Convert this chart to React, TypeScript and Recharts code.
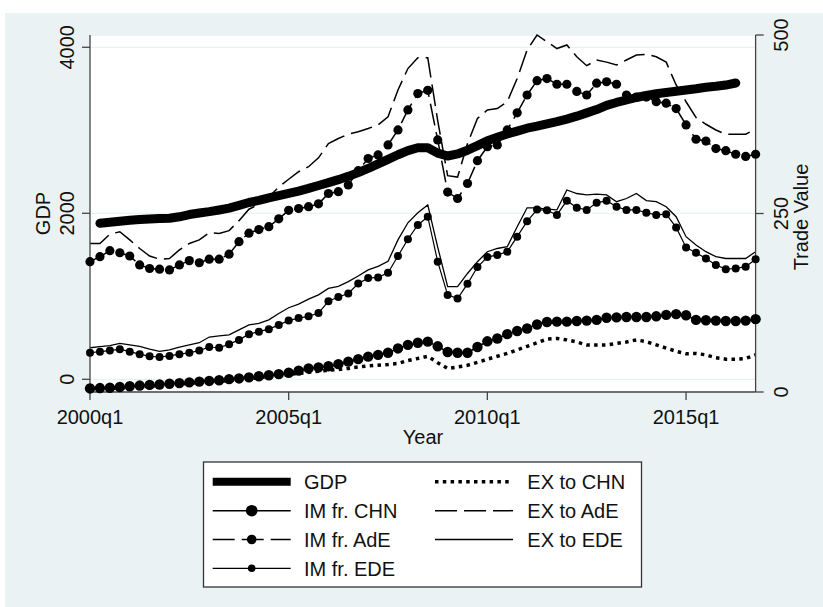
import React from 'react';
import { ComposedChart, Line, XAxis, YAxis, CartesianGrid } from 'recharts';

// Quarter categories 2000q1 .. 2016q4
const years = [2000, 2001, 2002, 2003, 2004, 2005, 2006, 2007, 2008, 2009, 2010, 2011, 2012, 2013, 2014, 2015, 2016];
const quarters: string[] = [];
years.forEach((y) => [1, 2, 3, 4].forEach((q) => quarters.push(`${y}q${q}`)));

const xTickIndex = [0, 20, 40, 60];
const gdpTicks = [0, 2000, 4000];
const tradeTicks = [0, 250, 500];

// GDP (left axis)
const gdp: (number | null)[] = [
  null, 1880, 1893, 1905, 1915, 1925, 1932, 1937, 1940, 1958,
  1985, 2003, 2020, 2040, 2062, 2095, 2130, 2155, 2185, 2212,
  2240, 2268, 2300, 2335, 2370, 2405, 2445, 2490, 2540, 2595,
  2650, 2705, 2755, 2790, 2790, 2725, 2690, 2715, 2760, 2815,
  2875, 2915, 2955, 2990, 3025, 3050, 3078, 3105, 3135, 3170,
  3210, 3250, 3300, 3335, 3365, 3395, 3420, 3440, 3455, 3470,
  3485, 3500, 3518, 3530, 3545, 3570, null, null,
];

// Trade values (right axis)
const imChn = [
  5, 5.5, 6, 7, 8, 9, 10, 10.5, 11.5, 12.5,
  13.5, 14.5, 15.5, 16.5, 18, 19, 20.5, 22, 23.5, 25,
  27, 30, 33, 34.5, 36, 39, 42.5, 46, 49.5, 52,
  55, 61, 66, 69, 70.5, 64, 56, 55, 55, 63,
  71, 75, 81, 85.5, 89, 94.5, 98, 98.5, 98.5, 99.5,
  100, 101, 104, 104.5, 105, 105, 105, 106, 108, 109,
  107.5, 101, 100.5, 100, 99.5, 99.5, 100, 102,
];
const imAde = [
  182.5, 189.5, 198, 195, 190.5, 178, 173, 172, 171, 178,
  184, 181, 186, 186, 193, 210.5, 222.5, 227.5, 231.5, 242.5,
  254.5, 257, 259.5, 263.5, 278, 280.5, 290, 310, 327, 332,
  346, 367, 395, 418, 422.5, 353, 280, 271, 292, 324,
  343.5, 346, 367, 391, 416, 436, 439, 431, 431, 421,
  416, 432.5, 434.5, 431, 416, 413, 413, 406.5, 404.5, 397,
  374, 354, 351.5, 341, 338, 333, 330, 333,
];
const imEde = [
  55, 56.5, 58, 60, 56.5, 53, 50, 49, 50.5, 53,
  55, 58, 63, 62, 67, 73, 81, 84.5, 88, 94,
  100, 103.5, 106, 110.5, 127, 133, 138, 152, 159.5, 160.5,
  167, 190.5, 214, 234, 245.5, 182.5, 136, 131, 151.5, 175,
  189, 192, 196.5, 217.5, 239, 255.5, 254.5, 248, 268, 258,
  255, 265, 268, 259.5, 255, 255, 251, 248, 249, 230.5,
  202.5, 195, 187, 178, 172, 173, 175.5, 186,
];
const exChn = [
  4, 4.5, 5, 5.5, 6.5, 7.5, 8, 9, 10, 11,
  12, 13, 14, 15, 16, 17, 18.5, 20, 21.5, 23,
  24.5, 26, 27.5, 29, 30.5, 31.5, 33, 35, 36.5, 37.5,
  38.5, 40, 44, 47, 50, 41, 33, 35, 37.5, 41.5,
  46, 50, 54, 59, 64, 69, 74, 75, 73, 70,
  66, 66, 66, 68, 70, 73, 70.5, 66, 61.5, 57,
  53.5, 54, 52, 48, 46, 46, 47, 52,
];
const exAde = [
  208, 208, 221, 224.5, 213, 201, 190.5, 186, 187, 199,
  208, 213, 223, 222, 226, 240, 256, 263, 273, 287,
  298, 308.5, 315.5, 328, 348, 355, 361, 364.5, 369, 374,
  385.5, 423, 453, 468, 468, 380, 303, 301, 348, 383,
  395, 397, 406.5, 439, 479, 500, 490.5, 481, 486, 469.5,
  457, 465, 462, 458, 465, 472, 473, 469.5, 462, 430,
  406.5, 384.5, 375, 367, 361, 361, 361, 368,
];
const exEde = [
  62, 63.5, 65, 68, 66, 64, 60, 57, 59, 63,
  66, 69, 77, 78.5, 80, 87, 94, 96, 101, 110,
  118, 123, 130, 136, 145, 148, 154.5, 162.5, 171, 176,
  183, 213, 237, 251, 262, 203, 147.5, 147.5, 166, 182.5,
  196.5, 201, 203.5, 231.5, 258, 258, 256, 255, 283, 278,
  276, 277, 276, 266.5, 271, 278, 268, 266.5, 259.5, 245.5,
  217.5, 206, 196.5, 189.5, 187, 187, 187, 196.5,
];

const data = quarters.map((q, i) => ({
  t: i,
  q,
  gdp: gdp[i],
  imChn: imChn[i],
  imAde: imAde[i],
  imEde: imEde[i],
  exChn: exChn[i],
  exAde: exAde[i],
  exEde: exEde[i],
}));

const FONT = '"Liberation Sans", Arial, Helvetica, sans-serif';
const FS = 20;
const TXT = '#111';
const AX = '#444';
const BG = '#EAF2F3';

const LeftTick = (props: any) => {
  const { x, y, payload } = props;
  return (
    <text transform={`translate(${x - 6.5},${y}) rotate(-90)`} textAnchor="middle" fontSize={FS} fontFamily={FONT} fill={TXT}>
      {payload.value}
    </text>
  );
};
const RightTick = (props: any) => {
  const { x, y, payload } = props;
  return (
    <text transform={`translate(${x + 22.7},${y}) rotate(-90)`} textAnchor="middle" fontSize={FS} fontFamily={FONT} fill={TXT}>
      {payload.value}
    </text>
  );
};
const BottomTick = (props: any) => {
  const { x, y, payload } = props;
  return (
    <text x={x} y={y + 22} textAnchor="middle" fontSize={FS} fontFamily={FONT} fill={TXT}>
      {quarters[payload.value]}
    </text>
  );
};

const legendRows = [
  { col: 0, row: 0, label: 'GDP', kind: 'gdp' },
  { col: 0, row: 1, label: 'IM fr. CHN', kind: 'imChn' },
  { col: 0, row: 2, label: 'IM fr. AdE', kind: 'imAde' },
  { col: 0, row: 3, label: 'IM fr. EDE', kind: 'imEde' },
  { col: 1, row: 0, label: 'EX to CHN', kind: 'exChn' },
  { col: 1, row: 1, label: 'EX to AdE', kind: 'exAde' },
  { col: 1, row: 2, label: 'EX to EDE', kind: 'exEde' },
];

const LegendGlyph = ({ kind, x1, x2, y }: { kind: string; x1: number; x2: number; y: number }) => {
  const mid = (x1 + x2) / 2;
  switch (kind) {
    case 'gdp':
      return <line x1={x1} x2={x2} y1={y} y2={y} stroke="#000" strokeWidth={8} />;
    case 'imChn':
      return (
        <g>
          <line x1={x1} x2={x2} y1={y} y2={y} stroke="#000" strokeWidth={1.5} />
          <circle cx={mid} cy={y} r={5.8} fill="#000" />
        </g>
      );
    case 'imAde':
      return (
        <g>
          <line x1={x1} x2={x2} y1={y} y2={y} stroke="#000" strokeWidth={1.5} strokeDasharray="22 7" />
          <circle cx={mid} cy={y} r={4.8} fill="#000" />
        </g>
      );
    case 'imEde':
      return (
        <g>
          <line x1={x1} x2={x2} y1={y} y2={y} stroke="#000" strokeWidth={1.2} />
          <circle cx={mid} cy={y} r={3.8} fill="#000" />
        </g>
      );
    case 'exChn':
      return <line x1={x1} x2={x2} y1={y} y2={y} stroke="#000" strokeWidth={3.5} strokeDasharray="3.5 4.3" />;
    case 'exAde':
      return <line x1={x1} x2={x2} y1={y} y2={y} stroke="#000" strokeWidth={1.5} strokeDasharray="22 7" />;
    default:
      return <line x1={x1} x2={x2} y1={y} y2={y} stroke="#000" strokeWidth={1.3} />;
  }
};

export default function App() {
  const colSym = [212.7, 435];
  const colTxt = [304, 527.3];
  const rowY = [481.7, 510.7, 539.5, 568.3];
  return (
    <div style={{ position: 'fixed', left: 0, top: 0, width: 823, height: 607, background: '#fff', overflow: 'hidden' }}>
      <div style={{ position: 'absolute', left: 5, top: 13, width: 818, height: 594, background: BG }} />
      <div style={{ position: 'absolute', left: 0, top: 0 }}>
        <ComposedChart width={823} height={607} data={data} margin={{ top: 35, right: 0, bottom: 185, left: 0 }}>
          <CartesianGrid yAxisId="gdp" vertical={false} stroke={BG} strokeWidth={1.3} fill="#fff" fillOpacity={1} />
          <XAxis
            dataKey="t"
            type="number"
            domain={[0, 67]}
            ticks={xTickIndex}
            interval={0}
            height={30}
            tickSize={8}
            tick={<BottomTick />}
            axisLine={{ stroke: AX, strokeWidth: 1.3 }}
            tickLine={{ stroke: AX, strokeWidth: 1.3 }}
          />
          <YAxis
            yAxisId="gdp"
            orientation="left"
            type="number"
            domain={[-153, 4148]}
            ticks={gdpTicks}
            interval={0}
            width={90}
            tickSize={8}
            tick={<LeftTick />}
            axisLine={{ stroke: AX, strokeWidth: 1.3 }}
            tickLine={{ stroke: AX, strokeWidth: 1.3 }}
          />
          <YAxis
            yAxisId="tv"
            orientation="right"
            type="number"
            domain={[0, 500]}
            ticks={tradeTicks}
            interval={0}
            width={67.4}
            tickSize={8}
            tick={<RightTick />}
            axisLine={{ stroke: AX, strokeWidth: 1.3 }}
            tickLine={{ stroke: AX, strokeWidth: 1.3 }}
          />
          <Line yAxisId="gdp" dataKey="gdp" stroke="#000" strokeWidth={9} strokeLinecap="round" strokeLinejoin="round" dot={false} activeDot={false} isAnimationActive={false} />
          <Line yAxisId="tv" dataKey="imChn" stroke="#000" strokeWidth={1.5} dot={{ r: 5.2, fill: '#000', stroke: 'none', strokeDasharray: 'none' }} activeDot={false} isAnimationActive={false} />
          <Line yAxisId="tv" dataKey="imAde" stroke="#000" strokeWidth={1.5} strokeDasharray="22 7" dot={{ r: 4.6, fill: '#000', stroke: 'none', strokeDasharray: 'none' }} activeDot={false} isAnimationActive={false} />
          <Line yAxisId="tv" dataKey="imEde" stroke="#000" strokeWidth={1.2} dot={{ r: 4, fill: '#000', stroke: 'none', strokeDasharray: 'none' }} activeDot={false} isAnimationActive={false} />
          <Line yAxisId="tv" dataKey="exChn" stroke="#000" strokeWidth={3.5} strokeDasharray="3.5 4.3" dot={false} activeDot={false} isAnimationActive={false} />
          <Line yAxisId="tv" dataKey="exAde" stroke="#000" strokeWidth={1.5} strokeDasharray="22 7" dot={false} activeDot={false} isAnimationActive={false} />
          <Line yAxisId="tv" dataKey="exEde" stroke="#000" strokeWidth={1.3} dot={false} activeDot={false} isAnimationActive={false} />
        </ComposedChart>
      </div>
      <svg width={823} height={607} style={{ position: 'absolute', left: 0, top: 0, pointerEvents: 'none' }}>
        <text transform="translate(50,213.5) rotate(-90)" textAnchor="middle" fontSize={FS} fontFamily={FONT} fill={TXT}>GDP</text>
        <text transform="translate(808,217) rotate(-90)" textAnchor="middle" fontSize={FS} fontFamily={FONT} fill={TXT}>Trade Value</text>
        <text x={423} y={444} textAnchor="middle" fontSize={FS} fontFamily={FONT} fill={TXT}>Year</text>
        <rect x={203.5} y={462} width={438} height={125} fill="#fff" stroke="#333" strokeWidth={1.3} />
        {legendRows.map((r) => (
          <g key={r.label}>
            <LegendGlyph kind={r.kind} x1={colSym[r.col]} x2={colSym[r.col] + 78} y={rowY[r.row]} />
            <text x={colTxt[r.col]} y={rowY[r.row] + 7.2} fontSize={FS} fontFamily={FONT} fill={TXT}>{r.label}</text>
          </g>
        ))}
      </svg>
    </div>
  );
}
